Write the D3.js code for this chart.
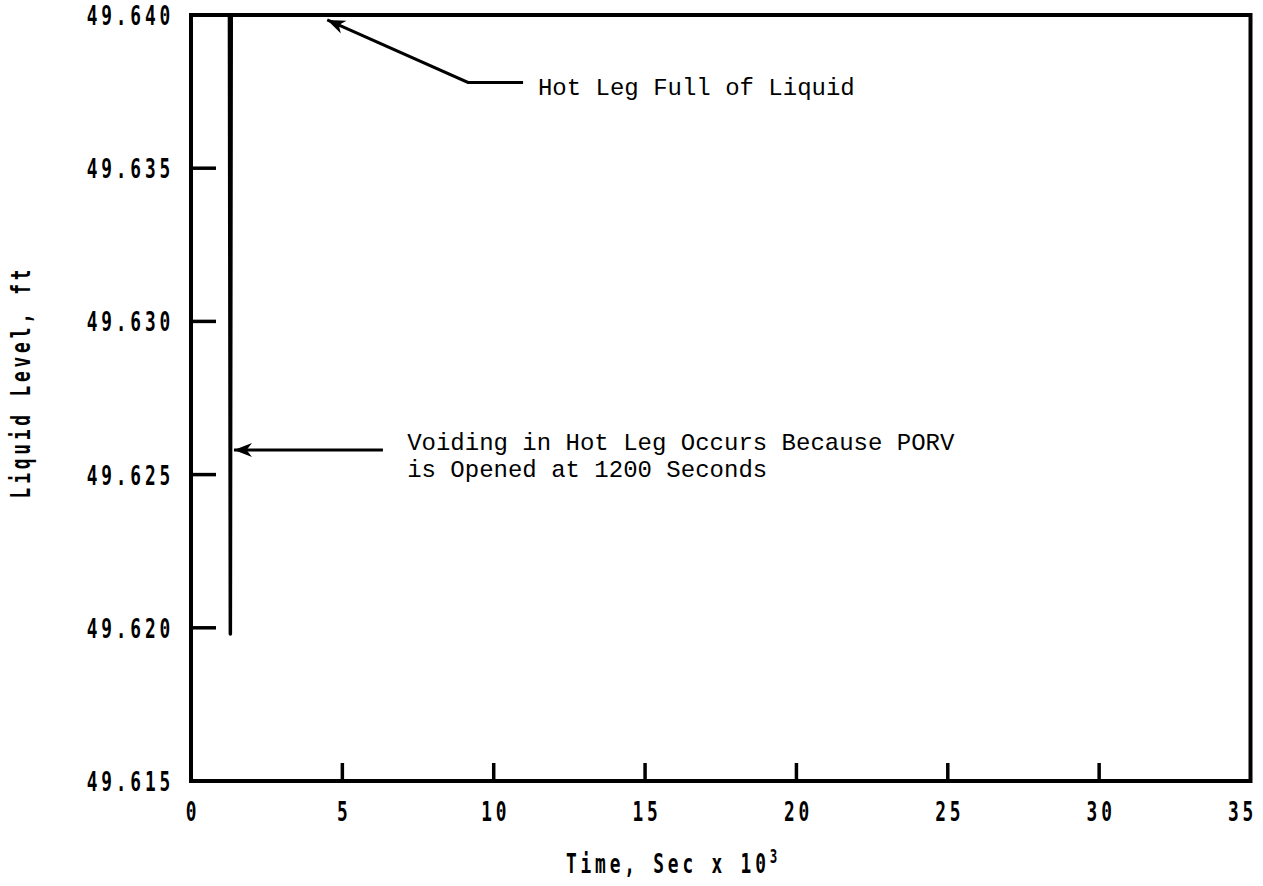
<!DOCTYPE html>
<html>
<head>
<meta charset="utf-8">
<script src="https://cdn.jsdelivr.net/npm/d3@7"></script>
<style>
  body { margin: 0; background: #fff; }
  .lbl { font-family: "DejaVu Sans Mono", monospace; font-weight: bold; font-size: 27px; letter-spacing: 5.8px; }
  .note { font-family: "Liberation Mono", "DejaVu Sans Mono", monospace; font-size: 24px; }
</style>
</head>
<body>
<svg width="1263" height="886"></svg>
<script>
"use strict";

// time in seconds x 10^3, liquid level in ft
var timeK = [0, 1.27, 1.30, 1.33, 35];
var level = [49.640, 49.640, 49.6198, 49.640, 49.640];

var xTicks = [0, 5, 10, 15, 20, 25, 30, 35];
var yTicks = [49.615, 49.620, 49.625, 49.630, 49.635, 49.640];

// annotation anchors in data units: arrow tip, bend, end of leader, text start
var noteText = [["Hot Leg Full of Liquid"],
                ["Voiding in Hot Leg Occurs Because PORV", "is Opened at 1200 Seconds"]];
var noteTip  = [[4.5, 49.63984], [1.42, 49.6258]];
var noteBend = [[9.15, 49.6378], [6.34, 49.6258]];
var noteEnd  = [[10.97, 49.6378], [6.34, 49.6258]];
var noteAt   = [[11.46, 49.6374], [7.14, 49.6258]];

var svg = d3.select("svg"),
    margin = {top: 15, right: 12.5, bottom: 105, left: 191},
    width = +svg.attr("width") - margin.left - margin.right,
    height = +svg.attr("height") - margin.top - margin.bottom,
    g = svg.append("g").attr("transform", "translate(" + margin.left + "," + margin.top + ")");

var x = d3.scaleLinear().domain([0, 35]).range([0, width]);
var y = d3.scaleLinear().domain([49.615, 49.640]).range([height, 0]);

var SX = 0.66;   // squeeze for the narrow plotter lettering

function label(parent, txt, px, py, anchor, rot) {
  var t = parent.append("g")
      .attr("transform", "translate(" + px + "," + py + ")" + (rot ? " rotate(" + rot + ")" : ""))
    .append("text")
      .attr("class", "lbl")
      .attr("transform", "scale(" + SX + ",1)")
      .attr("text-anchor", anchor);
  t.text(txt);
  return t;
}

// frame
g.append("rect")
  .attr("width", width)
  .attr("height", height)
  .attr("fill", "none")
  .attr("stroke", "#000")
  .attr("stroke-width", 4);

// inward ticks
g.append("g").selectAll("line")
  .data(xTicks.slice(1, -1))
  .enter().append("line")
    .attr("x1", function(d) { return x(d); })
    .attr("x2", function(d) { return x(d); })
    .attr("y1", height)
    .attr("y2", height - 18)
    .attr("stroke", "#000")
    .attr("stroke-width", 3.5);

g.append("g").selectAll("line")
  .data(yTicks.slice(1, -1))
  .enter().append("line")
    .attr("x1", 0)
    .attr("x2", 25)
    .attr("y1", function(d) { return y(d); })
    .attr("y2", function(d) { return y(d); })
    .attr("stroke", "#000")
    .attr("stroke-width", 3.5);

// tick labels
var lx = g.append("g");
xTicks.forEach(function(d) { label(lx, d, Math.min(x(d) + 2, width - 8), height + 40, "middle"); });

var ly = g.append("g");
yTicks.forEach(function(d) { label(ly, d3.format(".3f")(d), -17, y(d) + 10, "end"); });

// axis titles
var xt = label(svg, "", 566, 873, "start");
xt.append("tspan").text("Time, Sec x 10");
xt.append("tspan").attr("dy", -10).attr("font-size", 19).text("3");

label(svg, "Liquid Level, ft", 30, 382, "middle", -90);

// data line
var line = d3.line()
  .x(function(d) { return x(d[0]); })
  .y(function(d) { return y(d[1]); });

g.append("path")
  .datum(timeK.map(function(t, i) { return [t, level[i]]; }))
  .attr("fill", "none")
  .attr("stroke", "#000")
  .attr("stroke-width", 3.5)
  .attr("stroke-linejoin", "round")
  .attr("d", line);

// annotations
noteText.forEach(function(lines, i) {
  var tip = [x(noteTip[i][0]), y(noteTip[i][1])],
      bend = [x(noteBend[i][0]), y(noteBend[i][1])],
      end = [x(noteEnd[i][0]), y(noteEnd[i][1])];

  g.append("path")
    .attr("fill", "none")
    .attr("stroke", "#000")
    .attr("stroke-width", 3)
    .attr("d", "M" + tip + "L" + bend + "L" + end);

  // filled barbed head pointing at tip
  var a = Math.atan2(bend[1] - tip[1], bend[0] - tip[0]),
      L = 18, W = 7;
  var p = function(dl, dw) {
    return [tip[0] + dl * Math.cos(a) - dw * Math.sin(a), tip[1] + dl * Math.sin(a) + dw * Math.cos(a)];
  };
  g.append("path")
    .attr("fill", "#000")
    .attr("d", "M" + tip + "L" + p(L, W) + "L" + p(L * 0.7, 0) + "L" + p(L, -W) + "Z");

  var t = g.append("text")
    .attr("class", "note")
    .attr("x", x(noteAt[i][0]))
    .attr("y", y(noteAt[i][1]));
  t.selectAll("tspan")
    .data(lines)
    .enter().append("tspan")
      .attr("x", x(noteAt[i][0]))
      .attr("dy", function(d, k) { return k === 0 ? 0 : 27; })
      .text(function(d) { return d; });
});
</script>
</body>
</html>
